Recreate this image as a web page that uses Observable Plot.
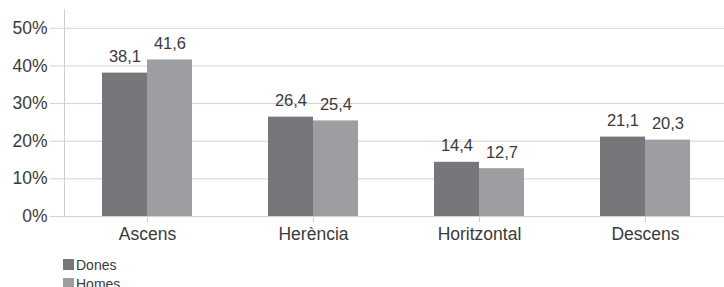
<!DOCTYPE html>
<html>
<head>
<meta charset="utf-8">
<script src="https://cdn.jsdelivr.net/npm/d3@7"></script>
<script src="https://cdn.jsdelivr.net/npm/@observablehq/plot@0.6"></script>
<style>
  body { margin: 0; background: #fff; font-family: "Liberation Sans", Arial, sans-serif; }
  #chart svg { display: block; overflow: visible; }
  .legend { padding-left: 63px; margin-top: 1px; font-size: 14px; color: #3a3a3a; }
  .legend div { display: flex; align-items: center; height: 19px; }
  .legend span.sw { width: 11px; height: 11px; margin-right: 2px; display: inline-block; }
</style>
</head>
<body>
<div id="chart"></div>
<script>
const categories = ["Ascens", "Herència", "Horitzontal", "Descens"];
const series = ["Dones", "Homes"];
const dones = [38.1, 26.4, 14.4, 21.1];
const homes = [41.6, 25.4, 12.7, 20.3];
const yTicks = [0, 10, 20, 30, 40, 50];
const colors = ["#76777b", "#9d9ea2"];

const data = [];
categories.forEach((c, i) => {
  data.push({cat: c, s: "Dones", v: dones[i]});
  data.push({cat: c, s: "Homes", v: homes[i]});
});
const fmt = v => v.toFixed(1).replace(".", ",");

const plot = Plot.plot({
  width: 724,
  height: 254,
  marginLeft: 63,
  marginRight: -5,
  marginTop: 9,
  marginBottom: 38,
  style: {fontFamily: "'Liberation Sans', Arial, sans-serif", color: "#3a3a3a", background: "#fff"},
  fx: {domain: categories, padding: 0, label: null},
  x: {domain: series, paddingInner: 0, paddingOuter: 0.83, axis: null},
  y: {domain: [0, 55], label: null},
  color: {domain: series, range: colors},
  marks: [
    Plot.gridY(yTicks, {stroke: "#d3d3d3", strokeOpacity: 1}),
    Plot.axisY(yTicks, {tickSize: 14, tickPadding: 3, tickFormat: d => d + "%", stroke: "#d3d3d3", fill: "#3a3a3a", fontSize: 17.5, label: null}),
    Plot.frame({anchor: "left", facetAnchor: "left", stroke: "#cdcdcd"}),
    Plot.barY(data, {fx: "cat", x: "s", y: "v", fill: "s"}),
    Plot.text(data, {fx: "cat", x: "s", y: "v", text: d => fmt(d.v), lineAnchor: "bottom", dy: -11, fontSize: 16.5, fill: "#3a3a3a"}),
    Plot.axisFx({anchor: "bottom", tickSize: 6, tickPadding: 5, stroke: "#cdcdcd", fill: "#3a3a3a", fontSize: 17.5, label: null})
  ]
});
document.getElementById("chart").appendChild(plot);

const legend = document.createElement("div");
legend.className = "legend";
series.forEach((s, i) => {
  const row = document.createElement("div");
  const sw = document.createElement("span");
  sw.className = "sw";
  sw.style.background = colors[i];
  row.appendChild(sw);
  row.appendChild(document.createTextNode(s));
  legend.appendChild(row);
});
document.body.appendChild(legend);
</script>
</body>
</html>
